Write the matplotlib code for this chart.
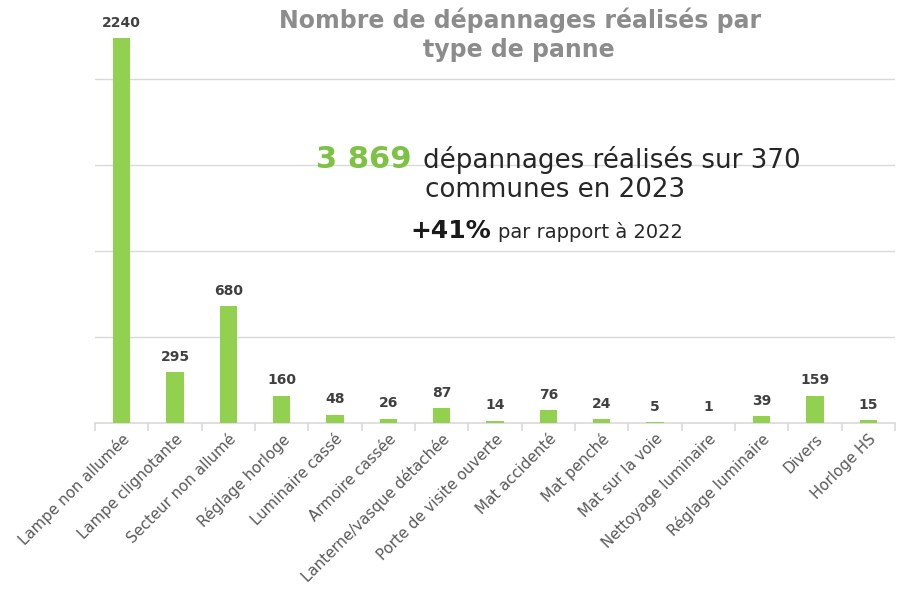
import matplotlib
matplotlib.use("Agg")
import matplotlib.pyplot as plt
import numpy as np

categories = ["Lampe non allumée", "Lampe clignotante", "Secteur non allumé", "Réglage horloge",
              "Luminaire cassé", "Armoire cassée", "Lanterne/vasque détachée", "Porte de visite ouverte",
              "Mat accidenté", "Mat penché", "Mat sur la voie", "Nettoyage luminaire",
              "Réglage luminaire", "Divers", "Horloge HS"]
values = [2240, 295, 680, 160, 48, 26, 87, 14, 76, 24, 5, 1, 39, 159, 15]

plt.rcParams['font.family'] = ['DejaVu Sans']

W, H = 901, 590
fig = plt.figure(figsize=(W / 100, H / 100), dpi=100)
ax = fig.add_axes([95 / W, 1 - 423 / H, 800 / W, 385 / H])

x = np.arange(len(categories))
ax.bar(x, values, width=0.32, color="#92D050", zorder=3)
ax.set_xlim(-0.5, len(categories) - 0.5)
ax.set_ylim(0, 2240)
ax.set_yticks([500, 1000, 1500, 2000])
ax.yaxis.grid(True, color="#D9D9D9", linewidth=1, zorder=0)
ax.tick_params(axis='y', length=0, labelleft=False)
for s in ["left", "right", "top"]:
    ax.spines[s].set_visible(False)
ax.spines["bottom"].set_color("#D9D9D9")
ax.spines["bottom"].set_linewidth(1.2)

ax.set_xticks(x)
ax.set_xticklabels(categories, rotation=45, ha="right", va="top", rotation_mode="anchor",
                   fontsize=10.8, color="#595959")
ax.tick_params(axis='x', which='major', length=0, pad=6)
ax.set_xticks(np.arange(-0.5, len(categories), 1.0), minor=True)
ax.tick_params(axis='x', which='minor', length=6, color="#D9D9D9", width=1.2)

for xi, v in zip(x, values):
    ax.annotate(str(v), (xi, v), xytext=(0, 6), textcoords="offset points", ha="center", va="bottom",
                fontsize=10, fontweight="bold", color="#404040", clip_on=False)

fig.text(520 / W, 1 - 20 / H, "Nombre de dépannages réalisés par", ha="center", va="center",
         fontsize=17, fontweight="bold", color="#8C8C8C")
fig.text(519 / W, 1 - 50 / H, "type de panne", ha="center", va="center",
         fontsize=17, fontweight="bold", color="#8C8C8C")

fig.text(316 / W, 1 - 168 / H, "3 869", ha="left", va="baseline", fontsize=22, fontweight="bold",
         color="#7DC242")
fig.text(423 / W, 1 - 168 / H, "dépannages réalisés sur 370", ha="left", va="baseline", fontsize=18.8,
         color="#262626")
fig.text(425 / W, 1 - 197 / H, "communes en 2023", ha="left", va="baseline", fontsize=18.8,
         color="#262626")
fig.text(410 / W, 1 - 238 / H, "+41%", ha="left", va="baseline", fontsize=18, fontweight="bold",
         color="#1A1A1A")
fig.text(498 / W, 1 - 238 / H, "par rapport à 2022", ha="left", va="baseline", fontsize=14,
         color="#262626")

fig.savefig("out.png", dpi=100)
